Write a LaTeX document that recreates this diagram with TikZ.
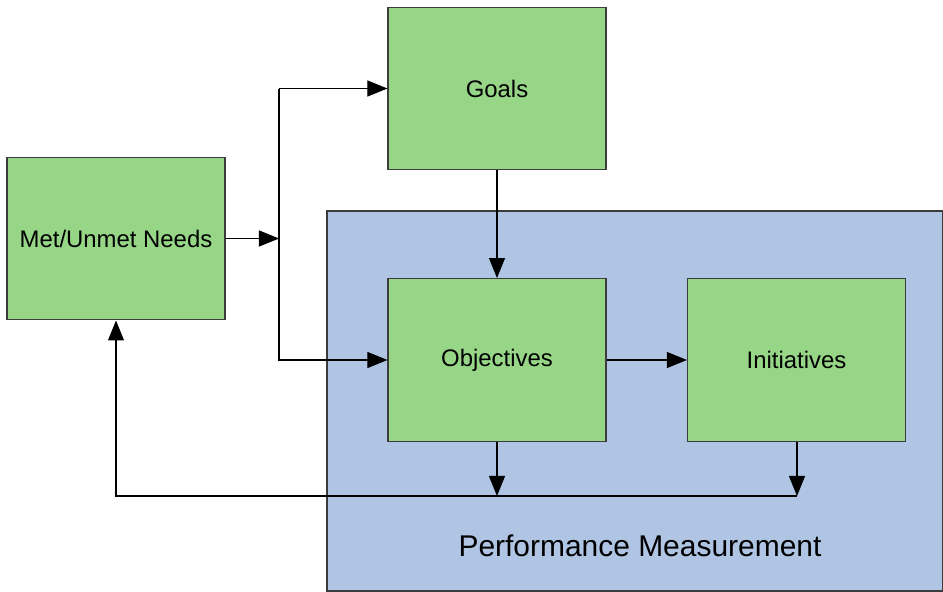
\documentclass[tikz,border=0pt]{standalone}
\usepackage{fontspec}
\setmainfont{Liberation Sans}
\usepackage{tikz}
\usetikzlibrary{arrows.meta}

\definecolor{boxgreen}{RGB}{151,214,135}
\definecolor{pmblue}{RGB}{176,197,228}
\definecolor{edgegray}{RGB}{60,60,60}

\tikzset{
  stage/.style = {draw = edgegray, line width = 0.8pt, fill = boxgreen,
                  minimum width = 5.45cm, minimum height = 4.07cm,
                  inner sep = 0pt, font = \fontsize{17}{20}\selectfont},
  flow/.style  = {line width = 0.8pt, -{Triangle[length = 5mm, width = 4mm]}}
}

\begin{document}
\begin{tikzpicture}[x = 0.025cm, y = -0.025cm]
\useasboundingbox (0, 0) rectangle (943, 592);

\draw[draw = edgegray, line width = 0.8pt, fill = pmblue] (327, 211) rectangle (942.5, 591);
\node at (640, 546) (pm) {\fontsize{21.3}{25}\selectfont Performance Measurement};

\node[stage] at (116, 238.5) (met)  {Met/Unmet Needs};
\node[stage] at (497, 88.5)  (goals) {Goals};
\node[stage] at (497, 360)   (obj)  {Objectives};
\node[stage] at (796.5, 360) (ini)  {Initiatives};

\coordinate (j)  at (279, 238.5);
\coordinate (jg) at (279, 88.5);
\coordinate (b1) at (497, 496);
\coordinate (b2) at (797, 496);

\draw[flow] (met) -- (j);
\draw[line width = 0.8pt] (j) -- (jg);
\draw[flow] (jg) -- (goals);
\draw[flow] (j) |- (obj);
\draw[flow] (goals) -- (obj);
\draw[flow] (obj) -- (ini);

\draw[flow] (obj.south) -- (b1);
\draw[flow] (ini.south -| b2) -- (b2);
\draw[flow] (b2) -| (met.south);

\end{tikzpicture}
\end{document}
